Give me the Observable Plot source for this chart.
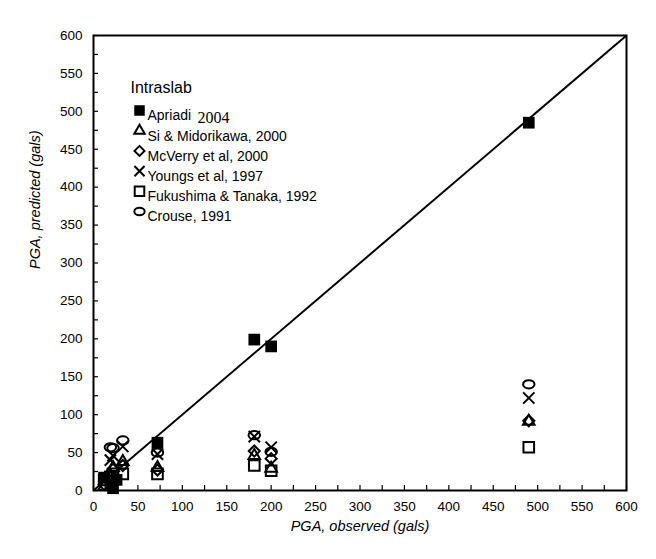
<!DOCTYPE html>
<html>
<head>
<meta charset="utf-8">
<script src="https://cdn.jsdelivr.net/npm/d3@7"></script>
<script src="https://cdn.jsdelivr.net/npm/@observablehq/plot@0.6"></script>
<style>
  html, body { margin: 0; padding: 0; background: #fff; }
  #chart svg { display: block; }
</style>
</head>
<body>
<div id="chart"></div>
<script>
// Observed PGA of each record (gals)
const observed = [12, 19, 22, 26, 33, 72, 181, 200, 490];

// Predicted PGA (gals) by each attenuation relation; null = no point
const apriadi   = [17, 8, 3, 14, null, 63, 199, 190, 485];
const si        = [5, 20, 30, null, 38, 30, 46, 29, 91];
const mcverry   = [8, 18, 28, null, 33, 27, 52, 42, 92];
const youngs    = [null, 40, 46, null, 58, 48, 71, 57, 122];
const fukushima = [14, 18, 22, null, 22, 22, 33, 26, 57];
const crouse    = [null, 57, 56, null, 66, 50, 73, 51, 140];

const axisRange = [0, 600];
const majorTicks = d3.range(0, 601, 50);
const minorTicks = d3.range(0, 601, 25);

// Wide ellipse used for Crouse's marker
const ellipse = {
  draw(ctx, size) {
    const r = Math.sqrt(size / Math.PI), rx = r * 1.25, ry = r * 0.9, k = 0.5523;
    ctx.moveTo(rx, 0);
    ctx.bezierCurveTo(rx, ry * k, rx * k, ry, 0, ry);
    ctx.bezierCurveTo(-rx * k, ry, -rx, ry * k, -rx, 0);
    ctx.bezierCurveTo(-rx, -ry * k, -rx * k, -ry, 0, -ry);
    ctx.bezierCurveTo(rx * k, -ry, rx, -ry * k, rx, 0);
    ctx.closePath();
  }
};

const series = [
  {name: "Apriadi", values: apriadi, symbol: "square", r: 6.6, filled: true},
  {name: "Si & Midorikawa, 2000", values: si, symbol: "triangle", r: 4.3},
  {name: "McVerry et al, 2000", values: mcverry, symbol: "diamond2", r: 5.0},
  {name: "Youngs et al, 1997", values: youngs, symbol: "times", r: 5.2},
  {name: "Fukushima & Tanaka, 1992", values: fukushima, symbol: "square", r: 6.0},
  {name: "Crouse, 1991", values: crouse, symbol: ellipse, r: 4.6}
];

const rows = (s) => observed.map((x, i) => ({x, y: s.values[i]}));
const style = (s) => s.filled
  ? {fill: "black", stroke: "none"}
  : {fill: "none", stroke: "black", strokeWidth: 2};

// draw order: open markers first, filled squares last
const pointMarks = series.slice(1).concat(series[0]).map(s =>
  Plot.dot(rows(s), {x: "x", y: "y", symbol: () => s.symbol, r: s.r, ...style(s)})
);

// Legend inside the frame
const legendMarks = [
  Plot.text(["Intraslab"], {text: d => d, frameAnchor: "top-left", dx: 37, dy: 46,
    textAnchor: "start", fontSize: 16})
];
series.forEach((s, i) => {
  const dy = 75 + i * 20.2;
  legendMarks.push(
    Plot.dot([s.name], {frameAnchor: "top-left", dx: 46, dy, symbol: () => s.symbol,
      r: s.r * 0.9, ...style(s)}),
    Plot.text([s.name], {text: d => d, frameAnchor: "top-left", dx: 54, dy,
      textAnchor: "start", fontSize: 14})
  );
});
legendMarks.push(
  Plot.text(["2004"], {text: d => d, frameAnchor: "top-left", dx: 104, dy: 76,
    textAnchor: "start", fontSize: 16, fontFamily: "Liberation Serif, Times New Roman, serif"})
);

const chart = Plot.plot({
  width: 656,
  height: 559,
  marginLeft: 93,
  marginRight: 30,
  marginTop: 35,
  marginBottom: 69,
  style: {fontFamily: "Liberation Sans, Arial, sans-serif", fontSize: "13px", color: "black", background: "white"},
  x: {domain: axisRange},
  y: {domain: axisRange},
  marks: [
    Plot.axisX({ticks: minorTicks, tickSize: -5, strokeWidth: 1.2, tickFormat: () => "", label: null}),
    Plot.axisX({ticks: majorTicks, tickSize: 0, tickPadding: 11, fontSize: 13.5, label: null}),
    Plot.axisY({ticks: minorTicks, tickSize: -5, strokeWidth: 1.2, tickFormat: () => "", label: null}),
    Plot.axisY({ticks: majorTicks, tickSize: 0, tickPadding: 11, fontSize: 13.5, label: null}),
    Plot.link([axisRange], {x1: d => d[0], y1: d => d[0], x2: d => d[1], y2: d => d[1],
      stroke: "black", strokeWidth: 2}),
    ...pointMarks,
    ...legendMarks,
    Plot.frame({stroke: "black", strokeWidth: 2}),
    Plot.text(["PGA, observed (gals)"], {text: d => d, frameAnchor: "bottom", dy: 40,
      fontSize: 14.5, fontStyle: "italic"}),
    Plot.text(["PGA, predicted (gals)"], {text: d => d, frameAnchor: "left", dx: -58, dy: 6,
      rotate: -90, fontSize: 14.5, fontStyle: "italic"})
  ]
});

document.getElementById("chart").append(chart);
</script>
</body>
</html>
